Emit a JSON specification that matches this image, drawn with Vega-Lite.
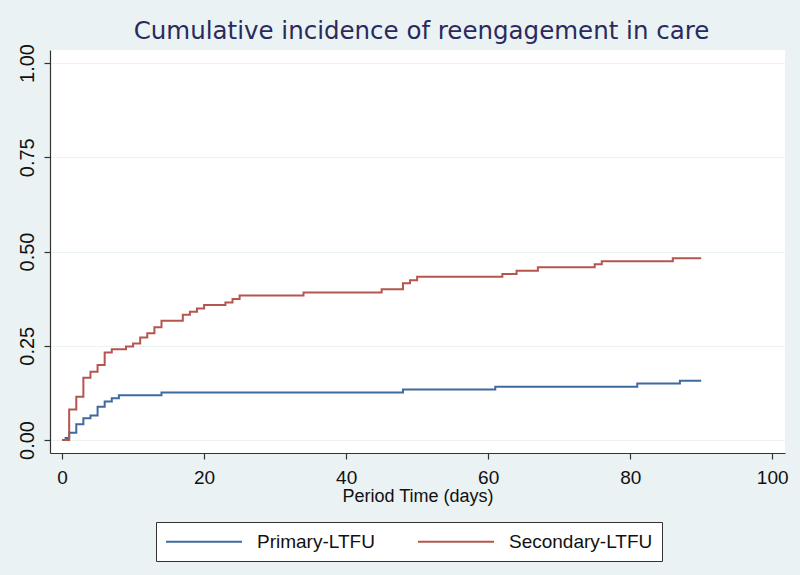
{
  "$schema": "https://vega.github.io/schema/vega-lite/v6.json",
  "width": 735,
  "height": 403,
  "autosize": "none",
  "padding": {"left": 50, "top": 50, "right": 15, "bottom": 122},
  "background": "#EAF2F3",
  "title": {
    "text": "Cumulative incidence of reengagement in care",
    "font": "DejaVu Sans",
    "fontSize": 24.5,
    "fontWeight": "normal",
    "color": "#2A2A5E",
    "anchor": "middle",
    "dx": 4,
    "offset": -1
  },
  "config": {
    "view": {"fill": "white", "stroke": null},
    "axis": {"labelFont": "Liberation Sans", "titleFont": "Liberation Sans", "labelColor": "#111", "titleColor": "#111", "domainColor": "#333", "tickColor": "#333", "labelFontSize": 19, "titleFontSize": 18, "titleFontWeight": "normal", "tickSize": 6, "domainWidth": 1.2, "tickWidth": 1.2},
    "legend": {"labelFont": "Liberation Sans", "labelFontSize": 19, "labelColor": "#111"}
  },
  "data": {
    "values": [
      {"series": "Primary-LTFU", "t": 0, "ci": 0},
      {"series": "Primary-LTFU", "t": 0.5, "ci": 0.005},
      {"series": "Primary-LTFU", "t": 1, "ci": 0.019},
      {"series": "Primary-LTFU", "t": 2, "ci": 0.042},
      {"series": "Primary-LTFU", "t": 3, "ci": 0.058},
      {"series": "Primary-LTFU", "t": 4, "ci": 0.065},
      {"series": "Primary-LTFU", "t": 5, "ci": 0.088},
      {"series": "Primary-LTFU", "t": 6, "ci": 0.102},
      {"series": "Primary-LTFU", "t": 7, "ci": 0.111},
      {"series": "Primary-LTFU", "t": 8, "ci": 0.119},
      {"series": "Primary-LTFU", "t": 14, "ci": 0.126},
      {"series": "Primary-LTFU", "t": 48, "ci": 0.134},
      {"series": "Primary-LTFU", "t": 61, "ci": 0.141},
      {"series": "Primary-LTFU", "t": 81, "ci": 0.150},
      {"series": "Primary-LTFU", "t": 87, "ci": 0.157},
      {"series": "Primary-LTFU", "t": 90, "ci": 0.157},
      {"series": "Secondary-LTFU", "t": 0, "ci": 0},
      {"series": "Secondary-LTFU", "t": 1, "ci": 0.081},
      {"series": "Secondary-LTFU", "t": 2, "ci": 0.115},
      {"series": "Secondary-LTFU", "t": 3, "ci": 0.165},
      {"series": "Secondary-LTFU", "t": 4, "ci": 0.181},
      {"series": "Secondary-LTFU", "t": 5, "ci": 0.199},
      {"series": "Secondary-LTFU", "t": 6, "ci": 0.232},
      {"series": "Secondary-LTFU", "t": 7, "ci": 0.241},
      {"series": "Secondary-LTFU", "t": 9, "ci": 0.248},
      {"series": "Secondary-LTFU", "t": 10, "ci": 0.256},
      {"series": "Secondary-LTFU", "t": 11, "ci": 0.272},
      {"series": "Secondary-LTFU", "t": 12, "ci": 0.283},
      {"series": "Secondary-LTFU", "t": 13, "ci": 0.299},
      {"series": "Secondary-LTFU", "t": 14, "ci": 0.316},
      {"series": "Secondary-LTFU", "t": 17, "ci": 0.332},
      {"series": "Secondary-LTFU", "t": 18, "ci": 0.340},
      {"series": "Secondary-LTFU", "t": 19, "ci": 0.349},
      {"series": "Secondary-LTFU", "t": 20, "ci": 0.358},
      {"series": "Secondary-LTFU", "t": 23, "ci": 0.365},
      {"series": "Secondary-LTFU", "t": 24, "ci": 0.374},
      {"series": "Secondary-LTFU", "t": 25, "ci": 0.383},
      {"series": "Secondary-LTFU", "t": 34, "ci": 0.391},
      {"series": "Secondary-LTFU", "t": 45, "ci": 0.400},
      {"series": "Secondary-LTFU", "t": 48, "ci": 0.416},
      {"series": "Secondary-LTFU", "t": 49, "ci": 0.424},
      {"series": "Secondary-LTFU", "t": 50, "ci": 0.433},
      {"series": "Secondary-LTFU", "t": 62, "ci": 0.440},
      {"series": "Secondary-LTFU", "t": 64, "ci": 0.449},
      {"series": "Secondary-LTFU", "t": 67, "ci": 0.458},
      {"series": "Secondary-LTFU", "t": 75, "ci": 0.466},
      {"series": "Secondary-LTFU", "t": 76, "ci": 0.474},
      {"series": "Secondary-LTFU", "t": 86, "ci": 0.482},
      {"series": "Secondary-LTFU", "t": 90, "ci": 0.482}
    ]
  },
  "mark": {"type": "line", "interpolate": "step-after", "strokeWidth": 2},
  "encoding": {
    "x": {
      "field": "t", "type": "quantitative",
      "scale": {"domain": [-1.7, 101.8], "nice": false, "zero": false},
      "axis": {"values": [0, 20, 40, 60, 80, 100], "grid": false, "title": "Period Time (days)", "labelPadding": 9, "titlePadding": 0}
    },
    "y": {
      "field": "ci", "type": "quantitative",
      "scale": {"domain": [-0.0345, 1.0345], "nice": false, "zero": false},
      "axis": {"values": [0, 0.25, 0.5, 0.75, 1], "format": ".2f", "title": null, "labelAngle": -90, "labelAlign": "center", "labelBaseline": "bottom", "labelFontSize": 20, "labelPadding": 7, "grid": true, "gridColor": "#EAF2F3", "gridWidth": 1.2}
    },
    "color": {
      "field": "series", "type": "nominal",
      "scale": {"domain": ["Primary-LTFU", "Secondary-LTFU"], "range": ["#3E6A9E", "#B5564E"]},
      "legend": {
        "title": null, "orient": "none", "direction": "horizontal",
        "legendX": 106, "legendY": 472,
        "symbolType": "M-4,0H4", "symbolSize": 361, "symbolStrokeWidth": 2,
        "symbolOffset": 28.5, "labelOffset": 42.5, "columnPadding": 39, "padding": 9,
        "strokeColor": "#333", "fillColor": "white"
      }
    }
  }
}
